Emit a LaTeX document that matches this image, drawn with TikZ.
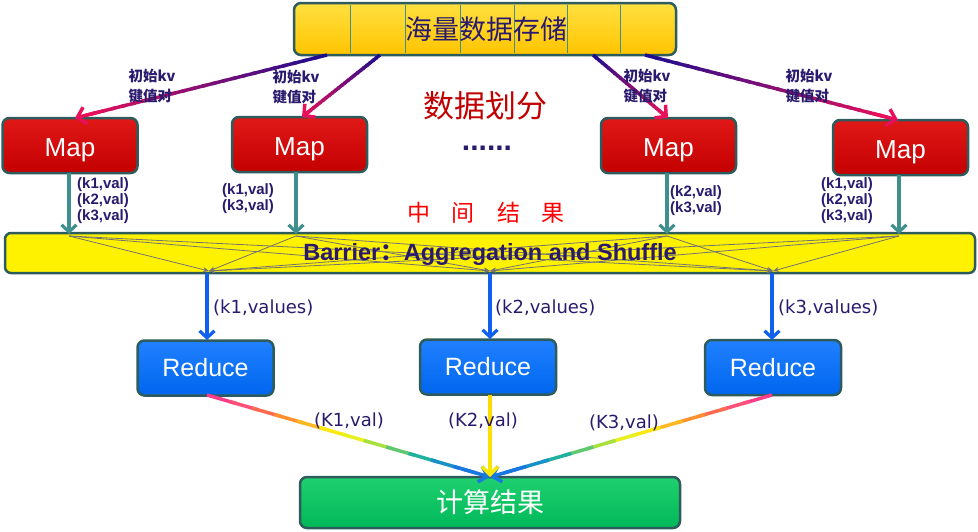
\documentclass[tikz,border=0pt]{standalone}
\usepackage{fontspec}
\setmainfont{Liberation Sans}
\newfontfamily\cjk{Noto Sans CJK SC}
\newfontfamily\dvs{DejaVu Sans}
\usetikzlibrary{arrows.meta,calc}
\definecolor{bordc}{HTML}{2E5C5C}
\definecolor{txtblue}{HTML}{2A1A6E}
\definecolor{goldtop}{HTML}{FFE040}
\definecolor{goldbot}{HTML}{FFC400}
\definecolor{redtop}{HTML}{E01818}
\definecolor{redbot}{HTML}{C40000}
\definecolor{bluetop}{HTML}{2080FF}
\definecolor{bluebot}{HTML}{0066EE}
\definecolor{greentop}{HTML}{20D070}
\definecolor{greenbot}{HTML}{00B858}
\definecolor{teal1}{HTML}{3F8F8F}
\definecolor{arrblue}{HTML}{1060F0}
\definecolor{dkblue}{HTML}{1C0C90}
\definecolor{pinkred}{HTML}{E8105A}
\definecolor{darkred}{HTML}{C00000}
\definecolor{rb1}{HTML}{FF3C8C}
\definecolor{rb2}{HTML}{FF5078}
\definecolor{rb3}{HTML}{FF6A50}
\definecolor{rb4}{HTML}{FF9030}
\definecolor{rb5}{HTML}{FFB820}
\definecolor{rb6}{HTML}{FFE810}
\definecolor{rb7}{HTML}{E8F020}
\definecolor{rb8}{HTML}{A8E040}
\definecolor{rb9}{HTML}{60C870}
\definecolor{rb10}{HTML}{20B0A0}
\definecolor{rb11}{HTML}{1890C8}
\definecolor{rb12}{HTML}{1878E0}
\definecolor{ylw1}{HTML}{FFD800}
\definecolor{ylw2}{HTML}{F8E800}
\newcommand\gradarrow[6]{%
  \foreach \i in {0,...,23}{%
    \pgfmathsetmacro\ta{\i/24*0.96}%
    \pgfmathsetmacro\tb{min(0.96,(\i+1.4)/24*0.96)}%
    \pgfmathtruncatemacro\p{100*(\i+0.5)/24}%
    \draw[line width=#5, draw={#4!\p!#3}] ($(#1)!\ta!(#2)$) -- ($(#1)!\tb!(#2)$);
  }%
  \draw[line width=#5, draw=#4, -{#6}] ($(#1)!0.9!(#2)$) -- (#2);
}
\newcommand\rainarrow[3]{%
  \foreach \c [count=\i from 0] in {rb1,rb2,rb3,rb4,rb5,rb6,rb7,rb8,rb9,rb10,rb11,rb12}{%
    \pgfmathsetmacro\ta{\i/12*0.95}%
    \pgfmathsetmacro\tb{min(0.95,(\i+1.3)/12*0.95)}%
    \draw[line width=#3, draw=\c] ($(#1)!\ta!(#2)$) -- ($(#1)!\tb!(#2)$);
  }%
  \draw[line width=#3, draw=rb12, -{Straight Barb[length=8pt,width=16pt]}] ($(#1)!0.9!(#2)$) -- (#2);
}
\tikzset{
  box/.style={draw=bordc, line width=2.5pt, rounded corners=7pt, inner sep=0pt},
  topbox/.style={box, top color=goldtop, bottom color=goldbot, minimum width=382pt, minimum height=52pt},
  mapbox/.style={box, top color=redtop, bottom color=redbot, minimum width=135pt, minimum height=55pt, text=white, font=\fontsize{26}{26}\selectfont, text height=22pt, text depth=0pt},
  redbox/.style={box, top color=bluetop, bottom color=bluebot, minimum width=136pt, minimum height=55pt, text=white, font=\fontsize{25}{25}\selectfont},
  resbox/.style={box, top color=greentop, bottom color=greenbot, minimum width=380pt, minimum height=51pt, text=white, font=\cjk\fontsize{27}{27}\selectfont},
  barbox/.style={box, fill=yellow, minimum width=970pt, minimum height=40pt, rounded corners=6pt},
  kvlab/.style={text=txtblue, font=\cjk\bfseries\fontsize{14.5}{20}\selectfont, align=left},
  vallab/.style={text=txtblue, font=\bfseries\fontsize{15}{16}\selectfont, align=left, inner sep=0pt},
  vslab/.style={text=txtblue, font=\dvs\fontsize{18}{18}\selectfont, inner sep=0pt},
  tealarr/.style={draw=teal1, line width=3.2pt, -{Straight Barb[length=7pt,width=15pt]}},
  bluearr/.style={draw=arrblue, line width=3.2pt, -{Straight Barb[length=7pt,width=15pt]}},
  grayln/.style={draw=gray!90!black, line width=0.8pt, -{Stealth[length=6pt,width=5pt]}},
  divln/.style={draw=teal1, line width=1pt}
}
\begin{document}
\begin{tikzpicture}[x=1pt,y=-1pt]
\useasboundingbox (0,0) rectangle (978,531);
% boxes
\node[topbox] (top) at (485,29) {};
\foreach \xx [count=\k] in {350,405,460,514,567,620}{
  \coordinate (du\k) at (\xx,5); \coordinate (dd\k) at (\xx,53);
  \draw[divln] (du\k) -- (dd\k);
}
\node[text=txtblue, font=\cjk\fontsize{27}{27}\selectfont] (toptxt) at (486,29) {海量数据存储};
\node[mapbox] (m1) at (70,145.5) {Map};
\node[mapbox] (m2) at (299.5,144.5) {Map};
\node[mapbox] (m3) at (668.5,145.5) {Map};
\node[mapbox] (m4) at (900.5,147.5) {Map};
\node[barbox] (bar) at (490,253) {};
\node[redbox] (r1) at (205.5,368) {Reduce};
\node[redbox] (r2) at (488,367) {Reduce};
\node[redbox] (r3) at (773,367.5) {Reduce};
\node[resbox] (res) at (490,502.5) {计算结果};
% top arrows
\coordinate (s1) at (327,55); \coordinate (e1) at (75,118);
\coordinate (s2) at (380,55); \coordinate (e2) at (302,117);
\coordinate (s3) at (593,55); \coordinate (e3) at (668,118);
\coordinate (s4) at (645,55); \coordinate (e4) at (898,120);
\gradarrow{s1}{e1}{dkblue}{pinkred}{3.5pt}{Straight Barb[length=8pt,width=17pt]}
\gradarrow{s2}{e2}{dkblue}{pinkred}{3.5pt}{Straight Barb[length=8pt,width=17pt]}
\gradarrow{s3}{e3}{dkblue}{pinkred}{3.5pt}{Straight Barb[length=8pt,width=17pt]}
\gradarrow{s4}{e4}{dkblue}{pinkred}{3.5pt}{Straight Barb[length=8pt,width=17pt]}
\node[kvlab] (kv1) at (152,86) {初始kv\\键值对};
\node[kvlab] (kv2) at (296,87) {初始kv\\键值对};
\node[kvlab] (kv3) at (647,86) {初始kv\\键值对};
\node[kvlab] (kv4) at (809,86) {初始kv\\键值对};
\node[text=darkred, font=\cjk\fontsize{31}{31}\selectfont] (split) at (485,106) {数据划分};
\node[text=txtblue, font=\bfseries\fontsize{30}{30}\selectfont, anchor=base, inner sep=0pt] (dots) at (487,150) {......};
\node[text=red, font=\cjk\fontsize{23}{23}\selectfont] (mid) at (486,213) {中\hspace{22pt}间\hspace{22pt}结\hspace{22pt}果};
% map down arrows
\coordinate (t1) at (69,236); \coordinate (t2) at (296,236);
\coordinate (t3) at (667,236); \coordinate (t4) at (899,236);
\coordinate (ma1) at (69,173); \coordinate (ma2) at (296,172);
\coordinate (ma3) at (667,173); \coordinate (ma4) at (899,175);
\coordinate (mb1) at (69,234); \coordinate (mb2) at (296,234);
\coordinate (mb3) at (667,234); \coordinate (mb4) at (899,234);
\foreach \k in {1,2,3,4}{ \draw[tealarr] (ma\k) -- (mb\k); }
\node[vallab, anchor=west] (v1) at (77,201) {(k1,val)\\(k2,val)\\(k3,val)};
\node[vallab, anchor=west] (v2) at (222,199) {(k1,val)\\(k3,val)};
\node[vallab, anchor=west] (v3) at (670,201) {(k2,val)\\(k3,val)};
\node[vallab, anchor=west] (v4) at (821,201) {(k1,val)\\(k2,val)\\(k3,val)};
% barrier inner lines
\coordinate (b1) at (209,271); \coordinate (b2) at (490,271); \coordinate (b3) at (773,271);
\foreach \a in {1,2,3,4}{ \foreach \b in {1,2,3}{ \draw[grayln] (t\a) -- (b\b); } }
\node[text=txtblue, font=\bfseries\fontsize{23.5}{23.5}\selectfont] (bartxt) at (490,254) {Barrier{\cjk ：}Aggregation and Shuffle};
% blue arrows
\coordinate (ba1) at (207,273); \coordinate (bb1) at (207,340);
\coordinate (ba2) at (490,273); \coordinate (bb2) at (490,339);
\coordinate (ba3) at (772,273); \coordinate (bb3) at (772,340);
\foreach \k in {1,2,3}{ \draw[bluearr] (ba\k) -- (bb\k); }
\node[vslab, anchor=west] (kv1l) at (213,308) {(k1,values)};
\node[vslab, anchor=west] (kv2l) at (495,308) {(k2,values)};
\node[vslab, anchor=west] (kv3l) at (778,308) {(k3,values)};
% result arrows
\coordinate (ra1) at (207,395); \coordinate (ra2) at (490,395); \coordinate (ra3) at (772,395);
\coordinate (rtip) at (490,477);
\rainarrow{ra1}{rtip}{3.5pt}
\rainarrow{ra3}{rtip}{3.5pt}
\gradarrow{ra2}{rtip}{ylw1}{ylw2}{3.5pt}{Straight Barb[length=8pt,width=16pt]}
\node[vslab] (k1v) at (349,421) {(K1,val)};
\node[vslab] (k2v) at (483,421) {(K2,val)};
\node[vslab] (k3v) at (624,423) {(K3,val)};
\end{tikzpicture}
\end{document}
